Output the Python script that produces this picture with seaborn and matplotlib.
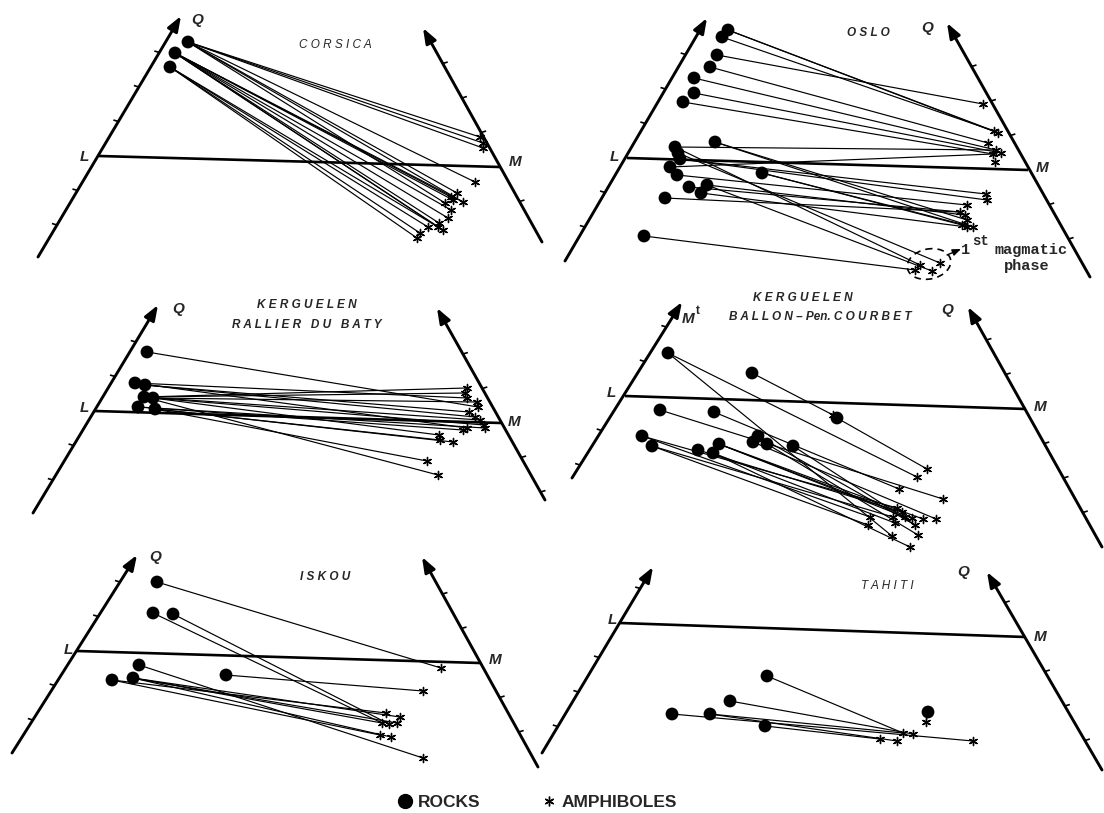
import numpy as np
import pandas as pd
import matplotlib
matplotlib.use("Agg")
import matplotlib.pyplot as plt
from matplotlib.patches import Ellipse
from matplotlib.lines import Line2D
import seaborn as sns

# ------------------------------------------------------------------
# Data: positions of rocks / amphiboles in each triangular diagram
# (page pixel units)
# ------------------------------------------------------------------
corsica_rock_x = [188, 175, 170]
corsica_rock_y = [42, 53, 67]
corsica_amph_x = [480, 483, 483, 475, 457, 451, 463, 453, 445, 451, 448, 439, 443, 428, 420, 417, 438]
corsica_amph_y = [137, 143, 148, 182, 193, 197, 202, 200, 203, 210, 218, 223, 230, 227, 233, 238, 227]
corsica_links = [(0, 0), (0, 1), (0, 2), (0, 3), (0, 4), (0, 8), (0, 6),
                 (1, 5), (1, 6), (1, 7), (1, 9), (1, 10), (1, 11), (1, 12), (1, 16),
                 (2, 13), (2, 14), (2, 15), (2, 12)]

oslo_rock_x = [728, 722, 717, 710, 694, 694, 683, 715, 675, 678, 680, 670, 677, 762, 689, 707, 701, 665, 644]
oslo_rock_y = [30, 37, 55, 67, 78, 93, 102, 142, 147, 153, 159, 167, 175, 173, 187, 185, 193, 198, 236]
oslo_amph_x = [983, 994, 998, 988, 996, 1001, 993, 995, 986, 987, 967, 960, 965, 967, 962, 967, 973, 940, 920, 915, 932]
oslo_amph_y = [104, 131, 133, 143, 150, 153, 154, 162, 194, 200, 205, 212, 215, 220, 225, 227, 227, 263, 265, 270, 271]
oslo_links = [(0, 1), (0, 2), (1, 1), (2, 0), (3, 3), (4, 4), (5, 5), (6, 6), (7, 13), (7, 16),
              (8, 18), (8, 4), (9, 17), (10, 8), (10, 9), (11, 6), (12, 10), (13, 14), (13, 16),
              (14, 11), (15, 12), (15, 20), (16, 15), (17, 11), (18, 19)]

rallier_rock_x = [147, 135, 145, 144, 153, 138, 155]
rallier_rock_y = [352, 383, 385, 397, 398, 407, 409]
rallier_amph_x = [467, 465, 467, 477, 478, 469, 475, 480, 484, 467, 463, 439, 440, 453, 427, 438, 485]
rallier_amph_y = [388, 393, 398, 402, 407, 412, 417, 420, 425, 428, 430, 435, 440, 442, 461, 475, 428]
rallier_links = [(0, 4), (1, 2), (1, 9), (2, 5), (2, 6), (3, 0), (3, 1), (3, 7), (4, 3), (4, 8),
                 (4, 11), (5, 10), (5, 16), (6, 12), (6, 13), (6, 14), (3, 15)]

ballon_rock_x = [668, 752, 837, 660, 714, 642, 652, 698, 719, 713, 758, 753, 767, 793]
ballon_rock_y = [353, 373, 418, 410, 412, 436, 446, 450, 444, 453, 436, 442, 444, 446]
ballon_amph_x = [927, 917, 899, 943, 936, 923, 897, 902, 893, 912, 915, 918, 895, 870, 868, 892, 910, 905, 833]
ballon_amph_y = [469, 477, 489, 499, 519, 519, 508, 512, 517, 518, 525, 535, 523, 517, 525, 536, 547, 517, 415]
ballon_links = [(0, 1), (0, 15), (1, 18), (2, 0), (3, 3), (4, 2), (5, 6), (5, 13), (6, 14), (6, 8),
                (7, 7), (8, 9), (8, 5), (8, 17), (9, 12), (9, 16), (10, 10), (11, 4), (12, 11), (13, 10)]

iskou_rock_x = [157, 153, 173, 139, 112, 133, 226]
iskou_rock_y = [582, 613, 614, 665, 680, 678, 675]
iskou_amph_x = [441, 423, 386, 400, 382, 389, 397, 380, 391, 423]
iskou_amph_y = [668, 691, 713, 717, 723, 724, 723, 735, 737, 758]
iskou_links = [(0, 0), (1, 4), (2, 5), (3, 9), (4, 7), (4, 2), (5, 3), (5, 6), (5, 8), (5, 4), (6, 1)]

tahiti_rock_x = [767, 730, 672, 710, 765, 928]
tahiti_rock_y = [676, 701, 714, 714, 726, 712]
tahiti_amph_x = [903, 913, 880, 897, 973, 926]
tahiti_amph_y = [733, 734, 739, 741, 741, 722]
tahiti_links = [(0, 0), (1, 1), (2, 4), (3, 0), (3, 3), (4, 2), (5, 5)]

legend_labels = ["ROCKS", "AMPHIBOLES"]

# ------------------------------------------------------------------
# Frame geometry of each diagram (layout)
# ------------------------------------------------------------------
panels = [
    dict(rx=corsica_rock_x, ry=corsica_rock_y, ax_=corsica_amph_x, ay=corsica_amph_y, links=corsica_links,
         left=((38, 257), (181, 16)), right=((423, 28), (542, 242)), L=(99, 156), M=(500, 167),
         Lpos=(84, 157), Mpos=(515, 162), Qpos=(197, 20),
         titles=[("C O R S I C A", (335, 45), "normal")]),
    dict(rx=oslo_rock_x, ry=oslo_rock_y, ax_=oslo_amph_x, ay=oslo_amph_y, links=oslo_links,
         left=((565, 261), (707, 18)), right=((947, 23), (1090, 277)), L=(627, 158), M=(1028, 170),
         Lpos=(614, 157), Mpos=(1042, 168), Qpos=(927, 28),
         titles=[("O S L O", (868, 33), "bold")]),
    dict(rx=rallier_rock_x, ry=rallier_rock_y, ax_=rallier_amph_x, ay=rallier_amph_y, links=rallier_links,
         left=((33, 513), (158, 305)), right=((437, 308), (545, 500)), L=(95, 411), M=(501, 423),
         Lpos=(84, 408), Mpos=(514, 422), Qpos=(178, 309),
         titles=[("K E R G U E L E N", (307, 305), "bold"),
                 ("R A L L I E R   D U   B A T Y", (307, 325), "bold")]),
    dict(rx=ballon_rock_x, ry=ballon_rock_y, ax_=ballon_amph_x, ay=ballon_amph_y, links=ballon_links,
         left=((572, 478), (682, 302)), right=((968, 307), (1102, 547)), L=(625, 396), M=(1026, 409),
         Lpos=(611, 393), Mpos=(1040, 407), Qpos=(947, 310),
         titles=[("K E R G U E L E N", (803, 298), "bold"),
                 ("B A L L O N – Pen. C O U R B E T", (820, 317), "bold")]),
    dict(rx=iskou_rock_x, ry=iskou_rock_y, ax_=iskou_amph_x, ay=iskou_amph_y, links=iskou_links,
         left=((12, 753), (137, 555)), right=((422, 557), (538, 767)), L=(77, 651), M=(480, 663),
         Lpos=(68, 650), Mpos=(495, 660), Qpos=(155, 557),
         titles=[("I S K O U", (325, 577), "bold")]),
    dict(rx=tahiti_rock_x, ry=tahiti_rock_y, ax_=tahiti_amph_x, ay=tahiti_amph_y, links=tahiti_links,
         left=((542, 753), (653, 567)), right=((987, 572), (1102, 770)), L=(620, 623), M=(1025, 637),
         Lpos=(612, 620), Mpos=(1040, 637), Qpos=(963, 572),
         titles=[("T A H I T I", (887, 586), "normal")]),
]

sns.set_style("white")
plt.rcParams["font.family"] = ["Liberation Sans", "DejaVu Sans"]

fig = plt.figure(figsize=(11.04, 8.13), dpi=100)
ax = fig.add_axes([0, 0, 1, 1])

# ---- connecting lines rock -> amphibole ----
rows = []
seg = 0
for p in panels:
    for r, a in p["links"]:
        rows.append((p["rx"][r], p["ry"][r], seg))
        rows.append((p["ax_"][a], p["ay"][a], seg))
        seg += 1
lines_df = pd.DataFrame(rows, columns=["x", "y", "seg"])
sns.lineplot(data=lines_df, x="x", y="y", units="seg", estimator=None, sort=False,
             color="black", linewidth=0.85, legend=False, ax=ax)

# ---- markers ----
rock_df = pd.DataFrame({"x": sum([p["rx"] for p in panels], []),
                        "y": sum([p["ry"] for p in panels], [])})
amph_df = pd.DataFrame({"x": sum([p["ax_"] for p in panels], []),
                        "y": sum([p["ay"] for p in panels], [])})
sns.scatterplot(data=amph_df, x="x", y="y", marker=(6, 2, 0), s=34, color="black",
                linewidth=1.0, ax=ax, zorder=3, legend=False)
sns.scatterplot(data=rock_df, x="x", y="y", marker="o", s=85, color="black",
                edgecolor="none", ax=ax, zorder=4, legend=False)


def axis_point(p_a, p_b, y):
    (xa, ya), (xb, yb) = p_a, p_b
    return xa + (y - ya) * (xb - xa) / (yb - ya)


def draw_axis(start, end, ref_y, side):
    ax.annotate("", xy=end, xytext=start,
                arrowprops=dict(arrowstyle="-|>,head_length=0.75,head_width=0.28",
                                lw=2.1, color="black", shrinkA=0, shrinkB=0,
                                mutation_scale=12), zorder=5)
    ytop = min(start[1], end[1])
    ybot = max(start[1], end[1])
    for k in range(-9, 10):
        if k == 0:
            continue
        y = ref_y + k * 34.5
        if ytop + 16 < y < ybot - 6:
            x = axis_point(start, end, y)
            ax.plot([x, x + side * 5], [y, y - 1.5], color="black", lw=1.2,
                    solid_capstyle="butt", zorder=5)


lab = dict(fontsize=11, fontweight="bold", fontstyle="italic", ha="center", va="center")
for p in panels:
    draw_axis(p["left"][0], p["left"][1], p["L"][1], -1)
    draw_axis(p["right"][1], p["right"][0], p["M"][1], +1)
    ax.plot([p["L"][0], p["M"][0]], [p["L"][1], p["M"][1]], color="black", lw=1.9,
            solid_capstyle="butt", zorder=5)
    ax.text(*p["Lpos"], "L", **lab)
    ax.text(*p["Mpos"], "M", **lab)
    ax.text(*p["Qpos"], "Q", **lab)
    for txt, pos, w in p["titles"]:
        ax.text(*pos, txt, fontsize=8.5, fontstyle="italic", fontweight=w,
                ha="center", va="center")

# M^t label of the Ballon diagram
ax.text(688, 319, "M", **lab)
ax.text(698, 311, "t", fontsize=8.5, fontweight="bold", ha="center", va="center")

# Oslo: first magmatic phase
ax.add_patch(Ellipse((929, 264), 44, 30, angle=-12, fill=False, ls=(0, (4, 3)),
                     lw=1.2, color="black", zorder=6))
ax.annotate("", xy=(961, 249), xytext=(947, 255),
            arrowprops=dict(arrowstyle="-|>,head_length=0.5,head_width=0.2", lw=1.0,
                            color="black", shrinkA=0, shrinkB=0, mutation_scale=10))
mono = dict(family=["Liberation Mono", "DejaVu Sans Mono"], fontweight="bold")
ax.text(966, 250, "1", fontsize=11, ha="center", va="center", **mono)
ax.text(981, 241, "st", fontsize=10, ha="center", va="center", **mono)
ax.text(1031, 250, "magmatic", fontsize=11, ha="center", va="center", **mono)
ax.text(1027, 266, "phase", fontsize=11, ha="center", va="center", **mono)

# legend
handles = [Line2D([], [], marker="o", color="black", ls="none", markersize=10),
           Line2D([], [], marker=(6, 2, 0), color="black", ls="none", markersize=7, mew=1.0)]
ax.legend(handles, legend_labels, loc="center", bbox_to_anchor=(0.487, 0.0125), ncol=2,
          frameon=False, prop=dict(weight="bold", size=12.5), handletextpad=0.3,
          columnspacing=3.6, handlelength=0.8, borderpad=0)

ax.set_xlim(0, 1104)
ax.set_ylim(813, 0)
ax.axis("off")
fig.savefig("out.png", dpi=100, facecolor="white")
